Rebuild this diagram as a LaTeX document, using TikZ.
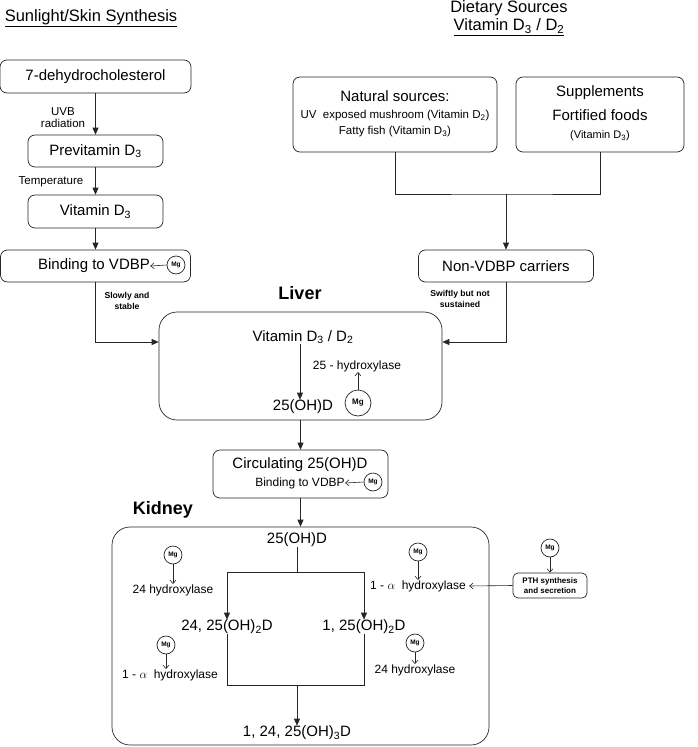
\documentclass[tikz,border=0pt]{standalone}
\usepackage{fontspec}
\setmainfont{Liberation Sans}
\usetikzlibrary{arrows.meta,calc}
\begin{document}
\begin{tikzpicture}[x=1pt,y=-1pt,line width=0.7pt,draw=black!85,
 bx/.style={draw,rounded corners=7pt,inner sep=0pt,align=center,font=\fontsize{15}{17}\selectfont},
 bigbox/.style={draw,rounded corners=18pt,inner sep=0pt},
 lbl/.style={inner sep=0pt,align=center,font=\fontsize{15}{17}\selectfont},
 ttl/.style={inner sep=0pt,align=center,font=\fontsize{16.5}{18}\selectfont},
 sml/.style={inner sep=0pt,align=center,font=\fontsize{12}{13}\selectfont},
 tiny/.style={inner sep=0pt,align=center,font=\bfseries\fontsize{8.6}{10.5}\selectfont},
 mgc/.style={draw,circle,inner sep=0pt,minimum size=18pt,font=\bfseries\fontsize{6.5}{7}\selectfont},
 mainarr/.style={-{Triangle[length=7pt,width=6pt]}},
 oarr/.style={-{Straight Barb[length=3.5pt,width=6pt]},line width=0.6pt},
]
\useasboundingbox (0,0) rectangle (697,747);

% titles
\node[ttl] (t1) at (91,18) {\underline{Sunlight/Skin Synthesis}};
\node[ttl] (t2) at (509,8) {Dietary Sources};
\node[ttl] (t3) at (509,27) {\underline{Vitamin D\textsubscript{3} / D\textsubscript{2}}};

% skin synthesis column
\node[bx,minimum width=191pt,minimum height=33pt] (dhc) at (95.5,76.5) {7-dehydrocholesterol};
\node[bx,minimum width=135pt,minimum height=32pt] (pre) at (95.5,151) {Previtamin D\textsubscript{3}};
\node[bx,minimum width=135pt,minimum height=33pt] (vd3) at (95.5,211.5) {Vitamin D\textsubscript{3}};
\node[bx,minimum width=190pt,minimum height=32pt] (bind) at (95.5,266) {};
\node[lbl] (bindt) at (94,266) {Binding to VDBP};
\node[mgc] (mgb) at (176,265) {Mg};
\node[sml,font=\fontsize{11.5}{12.5}\selectfont] (uvb) at (63,117.5) {UVB\\radiation};
\node[sml,font=\fontsize{11.5}{12.5}\selectfont] (temp) at (51,182) {Temperature};

\draw[mainarr] (dhc) -- (pre);
\draw[mainarr] (pre) -- (vd3);
\draw[mainarr] (vd3) -- (bind);
\draw[oarr] (mgb.west) -- (bindt.east);

% dietary column
\node[bx,minimum width=204pt,minimum height=75pt] (nat) at (395,114.5) {};
\node[lbl] (natt) at (395,96) {Natural sources:};
\node[sml,font=\fontsize{11.5}{12.5}\selectfont] (mush) at (395,116) {UV\ \ exposed mushroom (Vitamin D\textsubscript{2})};
\node[sml,font=\fontsize{11.5}{12.5}\selectfont] (fish) at (395,132) {Fatty fish (Vitamin D\textsubscript{3})};
\node[bx,minimum width=168pt,minimum height=75pt] (supp) at (600,114.5) {};
\node[lbl] (supt) at (600,93) {Supplements};
\node[lbl] (fort) at (600,115) {Fortified foods};
\node[sml,font=\fontsize{11}{12}\selectfont] (supd) at (600,136) {(Vitamin D\textsubscript{3})};
\node[bx,minimum width=175pt,minimum height=32pt] (nvdbp) at (506,266) {Non-VDBP carriers};
\coordinate (j) at (506,194);
\draw (nat.south) |- (j) -| (supp.south);
\draw[mainarr] (j) -- (nvdbp);

% liver
\node[inner sep=0pt,font=\bfseries\fontsize{18}{20}\selectfont] (livt) at (300,293) {Liver};
\node[bigbox,minimum width=283pt,minimum height=108pt] (liver) at (300.5,366) {};
\node[lbl] (vdl) at (303,337) {Vitamin D\textsubscript{3} / D\textsubscript{2}};
\node[lbl] (ohl) at (303,407) {25(OH)D};
\node[sml] (h25) at (357,366) {25 - hydroxylase};
\node[mgc,minimum size=26pt,font=\bfseries\fontsize{8}{9}\selectfont] (mgl) at (358,403) {Mg};
\draw[mainarr] ([xshift=-3pt]vdl.south) -- ([xshift=-3pt]ohl.north);
\draw[oarr] (mgl.north) -- (mgl.north |- h25.south);
\node[tiny] (slow) at (127,301) {Slowly and\\stable};
\node[tiny] (swift) at (460,299) {Swiftly but not\\sustained};
\draw[mainarr] (bind.south) |- ([yshift=24pt]liver.west);
\draw[mainarr] (nvdbp.south) |- ([yshift=24pt]liver.east);

% circulating
\node[bx,minimum width=175pt,minimum height=48pt] (circ) at (300.5,474) {};
\node[lbl] (circt) at (300,465) {Circulating 25(OH)D};
\node[sml] (bvd) at (300,483) {Binding to VDBP};
\node[mgc] (mgcc) at (373,482) {Mg};
\draw[oarr] (mgcc.west) -- (bvd.east);
\draw[mainarr] (liver.south) -- (circ.north);

% kidney
\node[inner sep=0pt,font=\bfseries\fontsize{18}{20}\selectfont] (kidt) at (163,510) {Kidney};
\node[bigbox,minimum width=377pt,minimum height=218pt] (kid) at (300.5,636) {};
\draw[mainarr] (circ.south) -- (kid.north);
\node[lbl] (ok) at (297,540) {25(OH)D};
\node[lbl] (a24) at (227,627) {24, 25(OH)\textsubscript{2}D};
\node[lbl] (a1) at (364,627) {1, 25(OH)\textsubscript{2}D};
\node[lbl] (tri) at (297,733) {1, 24, 25(OH)\textsubscript{3}D};
\coordinate (s) at (297,572);
\coordinate (b) at (297,685);
\draw (ok.south) -- (s);
\draw[mainarr] (s) -| (a24.north);
\draw[mainarr] (s) -| (a1.north);
\draw (a24.south) |- (b);
\draw (a1.south) |- (b);
\draw[mainarr] (b) -- (tri.north);

\node[mgc] (mg1) at (173,555) {Mg};
\node[sml] (h1) at (173,590) {24 hydroxylase};
\node[mgc] (mg2) at (418,552) {Mg};
\node[sml] (h2) at (418,586) {1 - $\alpha$\ \ hydroxylase};
\node[mgc] (mg3) at (166,645) {Mg};
\node[sml] (h3) at (170,675) {1 - $\alpha$\ \ hydroxylase};
\node[mgc] (mg4) at (415,643) {Mg};
\node[sml] (h4) at (415,670) {24 hydroxylase};
\draw[oarr] (mg1.south) -- (mg1.south |- h1.north);
\draw[oarr] (mg2.south) -- (mg2.south |- h2.north);
\draw[oarr] (mg3.south) -- (mg3.south |- h3.north);
\draw[oarr] (mg4.south) -- (mg4.south |- h4.north);

% PTH
\node[draw,rounded corners=5pt,inner sep=0pt,minimum width=74pt,minimum height=25pt,align=center,font=\bfseries\fontsize{8}{10}\selectfont] (pth) at (550,585.5) {PTH synthesis\\and secretion};
\node[mgc] (mg5) at (550,548) {Mg};
\draw[oarr] (mg5.south) -- (pth.north);
\draw[oarr] (pth.west) -- ([xshift=3pt]h2.east);
\end{tikzpicture}
\end{document}
